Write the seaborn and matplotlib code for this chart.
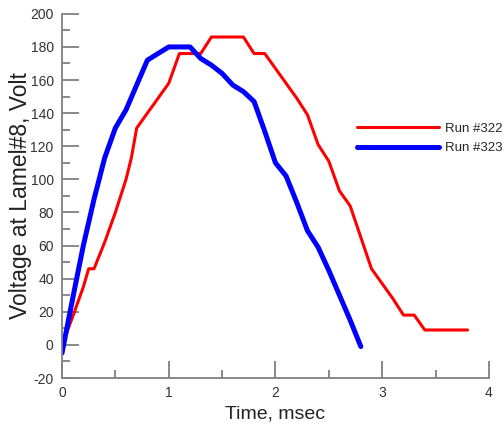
import matplotlib
matplotlib.use("Agg")
import matplotlib.pyplot as plt
from matplotlib.ticker import MultipleLocator
from matplotlib.lines import Line2D
import seaborn as sns
import pandas as pd

# Run #322 (red)
t322 = [0.0, 0.1, 0.2, 0.25, 0.3, 0.4, 0.5, 0.6, 0.65, 0.7, 0.8, 0.9, 1.0, 1.1, 1.3, 1.4,
        1.7, 1.8, 1.9, 2.0, 2.1, 2.2, 2.3, 2.4, 2.5, 2.6, 2.7, 2.8, 2.9, 3.0, 3.1, 3.2,
        3.3, 3.4, 3.8]
v322 = [0, 17, 35, 46, 46, 62, 80, 100, 113, 131, 140, 149, 158, 176, 176, 186,
        186, 176, 176, 167, 158, 149, 139, 121, 111, 93, 84, 65, 46, 37, 28, 18,
        18, 9, 9]

# Run #323 (blue)
t323 = [0.0, 0.1, 0.2, 0.3, 0.4, 0.5, 0.6, 0.7, 0.8, 0.9, 1.0, 1.2, 1.3, 1.4, 1.5, 1.6,
        1.7, 1.8, 1.9, 2.0, 2.1, 2.2, 2.3, 2.4, 2.5, 2.6, 2.7, 2.8]
v323 = [-5, 28, 60, 88, 113, 131, 142, 157, 172, 176, 180, 180, 173, 169, 164, 157,
        153, 147, 129, 110, 102, 86, 69, 59, 45, 30, 15, -1]

labels = ["Run #322", "Run #323"]
x_label = "Time, msec"
y_label = "Voltage at Lamel#8, Volt"

sns.set_theme(style="white")
plt.rcParams['font.family'] = ['Liberation Sans', 'DejaVu Sans']
plt.rcParams['axes.unicode_minus'] = False

df322 = pd.DataFrame({"t": t322, "v": v322})
df323 = pd.DataFrame({"t": t323, "v": v323})

fig = plt.figure(figsize=(5.04, 4.32), dpi=100)
ax = fig.add_axes([0.123, 0.125, 0.847, 0.843])

sns.lineplot(data=df322, x="t", y="v", ax=ax, color="#ff0000", linewidth=2.2,
             sort=False, estimator=None)
sns.lineplot(data=df323, x="t", y="v", ax=ax, color="#0000ff", linewidth=3.6,
             sort=False, estimator=None)

ax.set_xlim(0, 4)
ax.set_ylim(-20, 200)
ax.xaxis.set_major_locator(MultipleLocator(1))
ax.xaxis.set_minor_locator(MultipleLocator(0.5))
ax.yaxis.set_major_locator(MultipleLocator(20))
ax.yaxis.set_minor_locator(MultipleLocator(10))

for s in ["top", "right"]:
    ax.spines[s].set_visible(False)
for s in ["left", "bottom"]:
    ax.spines[s].set_color("#808080")
    ax.spines[s].set_linewidth(1.3)

ax.tick_params(which="major", direction="in", length=12, width=1.3, color="#808080",
               labelsize=10, labelcolor="#333333", pad=6)
ax.tick_params(which="minor", direction="in", length=6, width=1.3, color="#808080")
ax.tick_params(axis="x", which="both", bottom=True)
ax.tick_params(axis="y", which="both", left=True)

ax.set_xlabel(x_label, fontsize=14, color="#222222", labelpad=4)
ax.set_ylabel(y_label, fontsize=16.5, color="#222222")
ax.yaxis.set_label_coords(-0.07, 0.5)

handles = [Line2D([], [], color="#ff0000", linewidth=2.2),
           Line2D([], [], color="#0000ff", linewidth=3.6)]
fig.legend(handles, labels, loc="upper left", bbox_to_anchor=(0.708, 0.716),
           frameon=False, fontsize=9.5, handlelength=6.2, handletextpad=0.5,
           labelspacing=0.55, borderaxespad=0, borderpad=0)

fig.savefig("out.png", dpi=100)
